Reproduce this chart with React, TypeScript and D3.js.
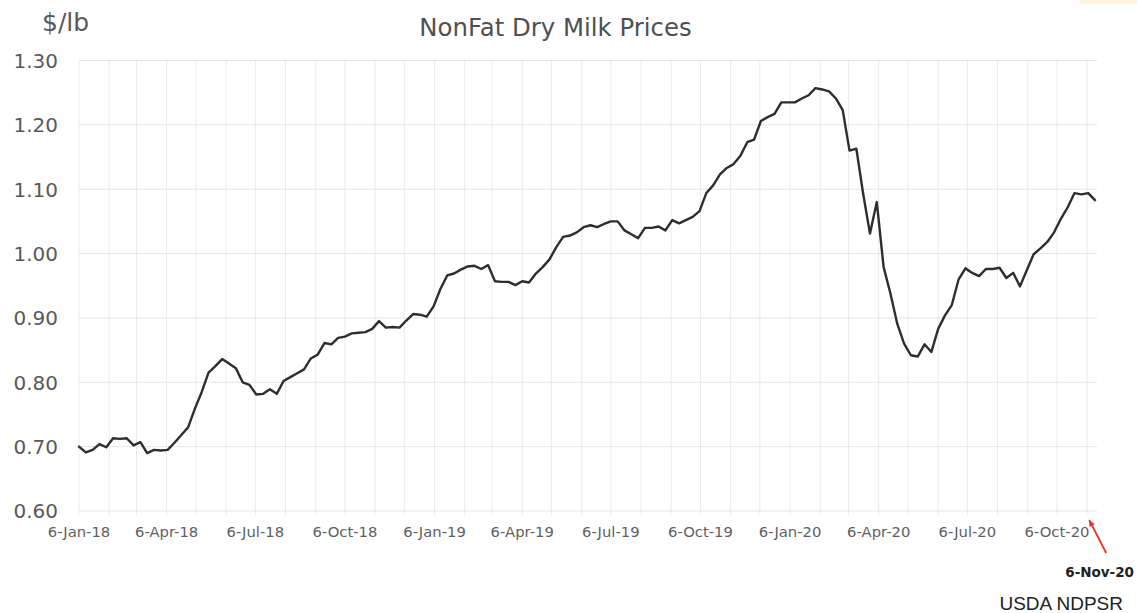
import React from "react";
import * as d3 from "d3";

const startDate = "2018-01-06";
const prices: number[] = [
  0.700, 0.691, 0.695, 0.704, 0.699, 0.713, 0.712, 0.713, 0.702, 0.707,
  0.690, 0.695, 0.694, 0.695, 0.706, 0.718, 0.730, 0.759, 0.785, 0.815,
  0.825, 0.836, 0.829, 0.822, 0.800, 0.796, 0.781, 0.782, 0.789, 0.782,
  0.802, 0.808, 0.814, 0.820, 0.837, 0.843, 0.861, 0.859, 0.869, 0.871,
  0.876, 0.877, 0.878, 0.883, 0.895, 0.885, 0.886, 0.885, 0.896, 0.906,
  0.905, 0.902, 0.918, 0.945, 0.966, 0.969, 0.975, 0.980, 0.981, 0.976,
  0.982, 0.957, 0.956, 0.956, 0.951, 0.957, 0.955, 0.969, 0.979, 0.991,
  1.010, 1.026, 1.028, 1.033, 1.041, 1.044, 1.041, 1.046, 1.050, 1.050,
  1.036, 1.030, 1.024, 1.040, 1.040, 1.042, 1.036, 1.052, 1.047, 1.052,
  1.057, 1.066, 1.094, 1.106, 1.123, 1.133, 1.139, 1.152, 1.173, 1.177,
  1.206, 1.212, 1.217, 1.235, 1.235, 1.235, 1.241, 1.246, 1.257, 1.255,
  1.252, 1.241, 1.223, 1.160, 1.163, 1.093, 1.031, 1.080, 0.979, 0.938,
  0.891, 0.860, 0.842, 0.840, 0.859, 0.847, 0.883, 0.904, 0.920, 0.960,
  0.977, 0.970, 0.965, 0.976, 0.976, 0.978, 0.962, 0.970, 0.949, 0.974,
  0.999, 1.008, 1.018, 1.033, 1.054, 1.072, 1.094, 1.092, 1.094, 1.083,
];
const xTickLabels = [
  "6-Jan-18", "6-Apr-18", "6-Jul-18", "6-Oct-18", "6-Jan-19", "6-Apr-19",
  "6-Jul-19", "6-Oct-19", "6-Jan-20", "6-Apr-20", "6-Jul-20", "6-Oct-20",
];
const yTicks = [0.6, 0.7, 0.8, 0.9, 1.0, 1.1, 1.2, 1.3];
const annotationLabel = "6-Nov-20";
const title = "NonFat Dry Milk Prices";
const yUnit = "$/lb";
const source = "USDA NDPSR";

const W = 1139;
const H = 613;
const FONT = "'DejaVu Sans', Verdana, sans-serif";

export default function App() {
  const parse = d3.timeParse("%d-%b-%y");
  const start = d3.timeParse("%Y-%m-%d")(startDate) as Date;
  const dates = prices.map((_, i) => d3.timeDay.offset(start, 7 * i));
  const data = prices.map((v, i) => ({ d: dates[i], v }));

  const left = 79;
  const right = 1097;
  const x = d3.scaleTime().domain([dates[0], dates[dates.length - 1]]).range([left, 1095]);
  const y = d3.scaleLinear().domain([0.6, 1.3]).range([511, 60.5]);

  const monthLines = d3.range(0, 35).map((m) => new Date(2018, m, 6));
  const tickDates = xTickLabels.map((t) => parse(t) as Date);
  const annDate = parse(annotationLabel) as Date;

  const line = d3
    .line<{ d: Date; v: number }>()
    .x((p) => x(p.d))
    .y((p) => y(p.v));

  const tipX = x(annDate) + 2;
  const tipY = 520;
  const tailX = tipX + 17;
  const tailY = 553;
  const ang = Math.atan2(tipY - tailY, tipX - tailX);
  const ah = 7;
  const aw = 0.45;
  const head = [
    [tipX, tipY],
    [tipX - ah * Math.cos(ang - aw), tipY - ah * Math.sin(ang - aw)],
    [tipX - ah * Math.cos(ang + aw), tipY - ah * Math.sin(ang + aw)],
  ]
    .map((p) => p.join(","))
    .join(" ");

  return (
    <svg
      width={W}
      height={H}
      style={{ position: "absolute", left: 0, top: 0, background: "#fff" }}
      fontFamily={FONT}
    >
      <rect x={0} y={0} width={W} height={H} fill="#fff" />
      <rect x={1080} y={0} width={57} height={4} fill="#fdf4da" />
      {/* vertical month gridlines */}
      {monthLines.map((d, i) => (
        <line
          key={"v" + i}
          x1={x(d)}
          x2={x(d)}
          y1={y(1.3)}
          y2={y(0.6) + 4}
          stroke="#ebebeb"
          strokeWidth={1}
        />
      ))}
      {/* horizontal gridlines */}
      {yTicks.map((t) => (
        <line
          key={"h" + t}
          x1={left}
          x2={right}
          y1={y(t)}
          y2={y(t)}
          stroke="#e6e6e6"
          strokeWidth={1}
        />
      ))}
      {/* y labels */}
      {yTicks.map((t) => (
        <text
          key={"yl" + t}
          x={58}
          y={y(t) + 7.3}
          textAnchor="end"
          fontSize={20}
          fill="#595959"
        >
          {t.toFixed(2)}
        </text>
      ))}
      {/* x labels */}
      {tickDates.map((d, i) => (
        <text
          key={"xl" + i}
          x={x(d)}
          y={536.5}
          textAnchor="middle"
          fontSize={14.8}
          fill="#5f5f5f"
        >
          {xTickLabels[i]}
        </text>
      ))}
      {/* data line */}
      <path
        d={line(data) || ""}
        fill="none"
        stroke="#2e2e2e"
        strokeWidth={2.4}
        strokeLinejoin="round"
        strokeLinecap="round"
      />
      {/* title and unit */}
      <text x={555.5} y={36} textAnchor="middle" fontSize={24.4} fill="#505050">
        {title}
      </text>
      <text x={42} y={31} fontSize={25} fill="#595959">
        {yUnit}
      </text>
      {/* annotation */}
      <line x1={tailX} y1={tailY} x2={tipX} y2={tipY} stroke="#e8352b" strokeWidth={1.8} />
      <polygon points={head} fill="#e8352b" />
      <text x={1134} y={576.5} textAnchor="end" fontSize={13.5} fontWeight="bold" fill="#222">
        {annotationLabel}
      </text>
      <text
        x={1123}
        y={610}
        textAnchor="end"
        fontSize={19}
        fill="#222"
        fontFamily="'Liberation Sans', Arial, sans-serif"
      >
        {source}
      </text>
    </svg>
  );
}
